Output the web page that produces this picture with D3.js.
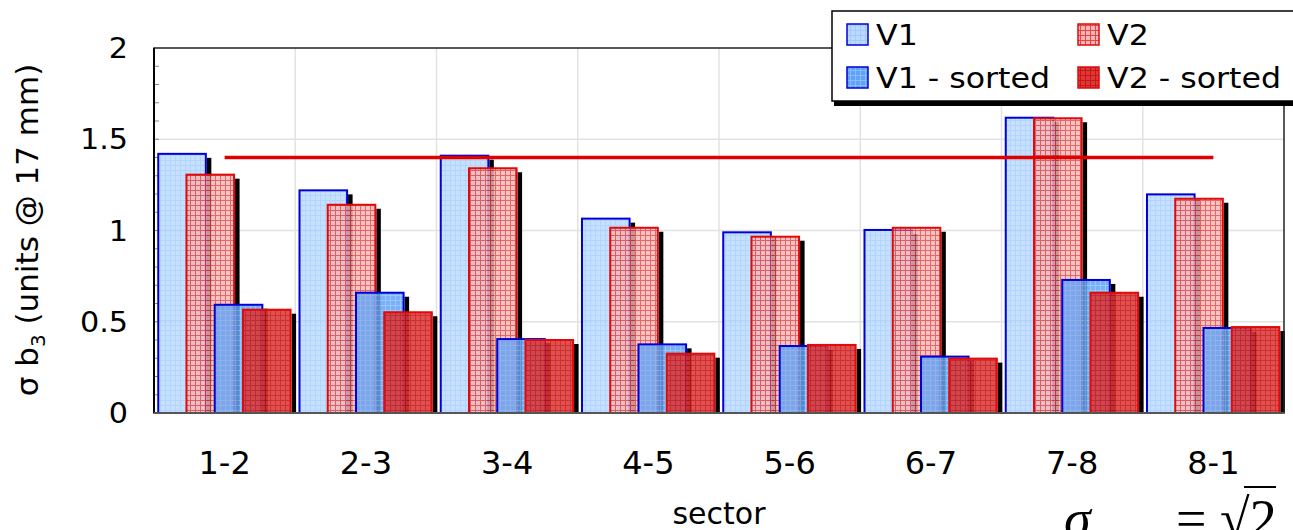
<!DOCTYPE html>
<html><head><meta charset="utf-8">
<script src="https://cdn.jsdelivr.net/npm/d3@7"></script>
<style>
html,body{margin:0;padding:0;background:#fff;overflow:hidden}
svg{display:block}
text{font-family:"DejaVu Sans",Verdana,sans-serif;fill:#000}
</style></head>
<body>
<svg id="c" width="1293" height="530"></svg>
<script>
const categories = ["1-2","2-3","3-4","4-5","5-6","6-7","7-8","8-1"];
const v1  = [1.42, 1.22, 1.41, 1.065, 0.99, 1.003, 1.618, 1.198];
const v2  = [1.306, 1.141, 1.341, 1.015, 0.966, 1.015, 1.615, 1.174];
const v1s = [0.593, 0.659, 0.405, 0.376, 0.367, 0.309, 0.729, 0.466];
const v2s = [0.566, 0.552, 0.40, 0.325, 0.373, 0.298, 0.659, 0.471];
const seriesNames = ["V1","V2","V1 - sorted","V2 - sorted"];
const refValue = 1.4;
const yTicks = [0, 0.5, 1, 1.5, 2];

const series = [
  {name: seriesNames[0], values: v1,  base:"#b9d9ff", grid:"#a2cbfc", stroke:"#0000d8", op:0.82},
  {name: seriesNames[1], values: v2,  base:"#f6b6b6", grid:"#e34444", stroke:"#e00a0a", op:0.82},
  {name: seriesNames[2], values: v1s, base:"#62a2f4", grid:"#86bcff", stroke:"#0000d8", op:0.85},
  {name: seriesNames[3], values: v2s, base:"#df3636", grid:"#c01818", stroke:"#e00a0a", op:0.88}
];

const svg = d3.select("#c");
const L = 154, R = 1284, T = 48, B = 413;
const x = d3.scaleBand().domain(categories).range([L, R]).padding(0);
const y = d3.scaleLinear().domain([0, 2]).range([B, T]);
const bw = x.bandwidth();

// patterns
const defs = svg.append("defs");
series.forEach((s, i) => {
  const p = defs.append("pattern").attr("id", "pat" + i)
    .attr("patternUnits", "userSpaceOnUse").attr("width", 5).attr("height", 5);
  p.append("rect").attr("width", 5).attr("height", 5).attr("fill", s.base);
  p.append("rect").attr("x", 0).attr("y", 0).attr("width", 5).attr("height", 1).attr("fill", s.grid);
  p.append("rect").attr("x", 0).attr("y", 0).attr("width", 1).attr("height", 5).attr("fill", s.grid);
});

// gridlines
const g = svg.append("g");
g.selectAll(".hg").data(yTicks.filter(d => d > 0 && d < 2)).enter().append("line")
  .attr("x1", L).attr("x2", R).attr("y1", d => y(d)).attr("y2", d => y(d))
  .attr("stroke", "#e2e2e2").attr("stroke-width", 1.5);
g.selectAll(".vg").data(categories.slice(1)).enter().append("line")
  .attr("x1", d => x(d)).attr("x2", d => x(d)).attr("y1", T).attr("y2", B)
  .attr("stroke", "#e2e2e2").attr("stroke-width", 1.5);

// minor ticks
const minor = d3.range(1, 20).map(i => i / 10);
g.selectAll(".mt").data(minor).enter().append("line")
  .attr("x1", L).attr("x2", L + 5).attr("y1", d => y(d)).attr("y2", d => y(d))
  .attr("stroke", "#888").attr("stroke-width", 1);

// bars
const offs = i => bw * 0.03 + i * bw * 0.2;
const barW = bw * 0.337;
series.forEach((s, i) => {
  const gs = svg.append("g");
  // visible part of the drop shadow (strip on the right side)
  gs.selectAll(".sh").data(categories).enter().append("rect")
    .attr("x", (c) => x(c) + offs(i) + barW + 1)
    .attr("y", (c, j) => y(s.values[j]) + 4)
    .attr("width", 4.5)
    .attr("height", (c, j) => B - y(s.values[j]) - 4)
    .attr("fill", "#000");
  gs.selectAll(".bar").data(categories).enter().append("rect")
    .attr("x", (c) => x(c) + offs(i))
    .attr("y", (c, j) => y(s.values[j]))
    .attr("width", barW)
    .attr("height", (c, j) => B - y(s.values[j]))
    .attr("fill", "url(#pat" + i + ")").attr("fill-opacity", s.op)
    .attr("stroke", s.stroke).attr("stroke-width", 2);
});

// reference line
svg.append("line")
  .attr("x1", x(categories[0]) + bw / 2).attr("x2", x(categories[categories.length - 1]) + bw / 2)
  .attr("y1", y(refValue)).attr("y2", y(refValue))
  .attr("stroke", "#e00000").attr("stroke-width", 3.5);

// frame
svg.append("rect").attr("x", L).attr("y", T).attr("width", R - L).attr("height", B - T)
  .attr("fill", "none").attr("stroke", "#222").attr("stroke-width", 1.5);
svg.append("line").attr("x1", L).attr("x2", L).attr("y1", T).attr("y2", B)
  .attr("stroke", "#000").attr("stroke-width", 2);
svg.append("line").attr("x1", L).attr("x2", R).attr("y1", B).attr("y2", B)
  .attr("stroke", "#555").attr("stroke-width", 2);

// y tick labels
svg.selectAll(".yt").data(yTicks).enter().append("text")
  .attr("transform", d => `translate(128,${y(d)}) scale(1.08,1)`).attr("dy", "0.36em")
  .attr("text-anchor", "end").attr("font-size", 28).text(d => d3.format("")(d));

// x tick labels
svg.selectAll(".xt").data(categories).enter().append("text")
  .attr("x", d => x(d) + bw / 2).attr("y", 474)
  .attr("text-anchor", "middle").attr("font-size", 32).text(d => d);

// axis titles
svg.append("text").attr("x", (L + R) / 2).attr("y", 524).attr("text-anchor", "middle")
  .attr("font-size", 30).text("sector");
const yt = svg.append("text").attr("transform", "translate(38,230) rotate(-90)")
  .attr("text-anchor", "middle").attr("font-size", 31);
yt.append("tspan").text("σ b");
yt.append("tspan").attr("font-size", 20).attr("dy", 7).text("3");
yt.append("tspan").attr("dy", -7).text(" (units @ 17 mm)");

// legend
const lg = svg.append("g");
lg.append("rect").attr("x", 834).attr("y", 15).attr("width", 470).attr("height", 91).attr("fill", "#000");
lg.append("rect").attr("x", 832).attr("y", 11).attr("width", 470).attr("height", 90)
  .attr("fill", "#fff").attr("stroke", "#000").attr("stroke-width", 1.5);
const lpos = [[847, 24], [1078, 24], [847, 67], [1078, 67]];
series.forEach((s, i) => {
  const [lx, ly] = lpos[i];
  lg.append("rect").attr("x", lx).attr("y", ly).attr("width", 21).attr("height", 21)
    .attr("fill", "url(#pat" + i + ")").attr("stroke", s.stroke).attr("stroke-width", 1.5);
  lg.append("text").attr("transform", `translate(${lx + 29},${ly + 21}) scale(1.15,1)`)
    .attr("font-size", 27.5).text(s.name);
});

// formula (partially cut off at bottom)
const f = svg.append("g");
f.append("text").attr("x", 1064).attr("y", 537).attr("font-size", 54).attr("font-style", "italic")
  .style("font-family", "'Liberation Serif',serif").text("σ");
f.append("text").attr("x", 1100).attr("y", 545).attr("font-size", 22).attr("font-style", "italic")
  .style("font-family", "'Liberation Serif',serif").text("unsorted");
f.append("text").attr("x", 1176).attr("y", 537).attr("font-size", 54)
  .style("font-family", "'Liberation Serif',serif").text("=");
f.append("text").attr("x", 1220).attr("y", 537).attr("font-size", 54)
  .style("font-family", "'Liberation Serif',serif").text("√2");
f.append("line").attr("x1", 1244).attr("x2", 1276).attr("y1", 487).attr("y2", 487)
  .attr("stroke", "#000").attr("stroke-width", 2);
</script>
</body></html>
